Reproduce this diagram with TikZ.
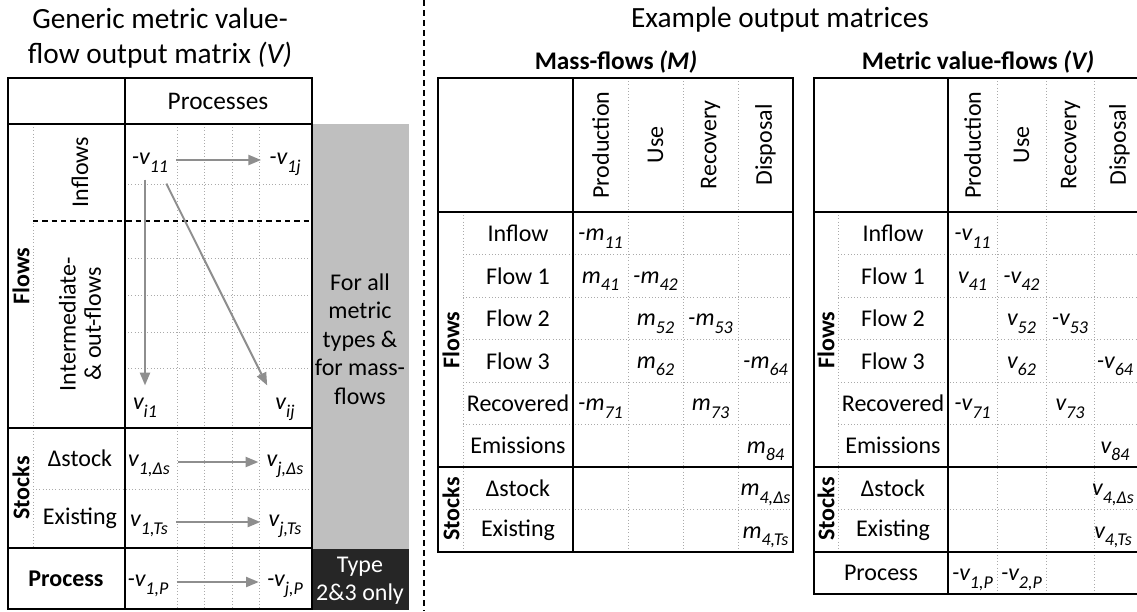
\documentclass[tikz,border=0pt]{standalone}
\usepackage{fontspec}
\setmainfont{Carlito}
\usetikzlibrary{arrows.meta}

\definecolor{boxgrey}{RGB}{191,191,191}
\definecolor{boxdark}{RGB}{38,38,38}
\definecolor{arrowgrey}{RGB}{142,142,142}
\definecolor{gridgrey}{RGB}{170,170,170}

\newcommand\cellsub[1]{\raisebox{-0.32em}{\fontsize{13.5}{13.5}\selectfont #1}}
\newcommand\mv[2]{\textit{#1\cellsub{#2}}}

\tikzset{
  bigline/.style={line width=1.5pt},
  dotgrid/.style={gridgrey, line width=0.6pt, dash pattern=on 0.8pt off 1.6pt},
  lab/.style={font=\fontsize{18}{19}\selectfont, inner sep=0pt},
  boldlab/.style={font=\fontsize{18}{19}\selectfont\bfseries, inner sep=0pt},
  cell/.style={font=\fontsize{18}{19}\selectfont, inner sep=6pt, text height=12pt, text depth=5pt},
  flowarrow/.style={arrowgrey, line width=1.5pt, -{Triangle[length=9.5pt, width=7.5pt]}}
}

\begin{document}
\begin{tikzpicture}[x=0.75pt, y=-0.75pt]
\useasboundingbox (0,0) rectangle (1137,611);

% Titles
\node[font=\fontsize{22}{26}\selectfont, align=center] (gtitle) at (160,38) {Generic metric value-\\flow output matrix \textit{(V)}};
\node[font=\fontsize{22}{26}\selectfont] (etitle) at (780,20) {Example output matrices};
\node[font=\fontsize{19}{22}\selectfont\bfseries] (mtitle) at (616,62) {Mass-flows \textit{(M)}};
\node[font=\fontsize{19}{22}\selectfont\bfseries] (vtitle) at (978,62) {Metric value-flows \textit{(V)}};

% Generic matrix: grey side boxes
\fill[boxgrey] (312,124) rectangle (409,549);
\fill[boxdark] (312,549) rectangle (409,610);
\node[lab, align=center, font=\fontsize{18}{21.4}\selectfont] (allnote) at (360,339) {For all\\metric\\types \&\\for mass-\\flows};
\node[lab, align=center, text=white, font=\fontsize{18}{21}\selectfont] (typenote) at (360,581) {Type\\2\&3 only};

% Generic matrix: grid
\foreach \x in {177,204,232,259} \draw[dotgrid] (\x,124) -- (\x,610);
\foreach \y in {184,258,295,332,368} \draw[dotgrid] (125,\y) -- (312,\y);
\draw[dotgrid] (33,124) -- (33,548);
\draw[dotgrid] (33,489) -- (312,489);
\draw[line width=1pt, dash pattern=on 4pt off 3pt] (33,221) -- (312,221);

% Generic matrix: borders
\draw[bigline] (8,78) rectangle (312,609);
\draw[bigline] (125,78) -- (125,609);
\foreach \y in {124,428,548} \draw[bigline] (8,\y) -- (312,\y);

% Generic matrix: labels
\node[lab, font=\fontsize{19}{20}\selectfont] (procs) at (218,101) {Processes};
\node[boldlab, rotate=90] (gflows) at (21,276) {Flows};
\node[boldlab, rotate=90] (gstocks) at (21,488) {Stocks};
\node[lab, rotate=90] (ginflows) at (80,172) {Inflows};
\node[lab, rotate=90, align=center] (ginter) at (80,324) {Intermediate-\\\& out-flows};
\node[lab] (gdstock) at (80,458) {Δstock};
\node[lab] (gexist) at (80,518) {Existing};
\node[boldlab] (gproc) at (66,579) {Process};

% Generic matrix: entries
\node[cell] (v11) at (150,160) {\mv{-v}{11}};
\node[cell] (v1j) at (285,160) {\mv{-v}{1j}};
\node[cell] (vi1) at (145,405) {\mv{v}{i1}};
\node[cell] (vij) at (285,405) {\mv{v}{ij}};
\node[cell] (v1ds) at (149,462) {\mv{v}{1,Δs}};
\node[cell] (vjds) at (285,462) {\mv{v}{j,Δs}};
\node[cell] (v1ts) at (149,522) {\mv{v}{1,Ts}};
\node[cell] (vjts) at (285,522) {\mv{v}{j,Ts}};
\node[cell] (v1p) at (148,582) {\mv{-v}{1,P}};
\node[cell] (vjp) at (285,582) {\mv{-v}{j,P}};

% Generic matrix: arrows
\draw[flowarrow] (v11) -- (v1j);
\draw[flowarrow] (vi1 |- v11.south) -- (vi1);
\draw[flowarrow] (v11.south east) ++(-10,4) -- (vij.north west);
\draw[flowarrow] (v1ds) -- (vjds);
\draw[flowarrow] (v1ts) -- (vjts);
\draw[flowarrow] (v1p) -- (vjp);

% Separator
\draw[line width=1pt, dash pattern=on 4.5pt off 3pt] (424,0) -- (424,611);

% Mass-flow matrix: grid
\foreach \x in {628,683,738} \draw[dotgrid] (\x,78) -- (\x,552);
\foreach \y in {254.5,297,339.5,382,424.5,509.5} \draw[dotgrid] (463,\y) -- (793,\y);
\draw[dotgrid] (463,212) -- (463,552);

% Mass-flow matrix: borders
\draw[bigline] (438,78) rectangle (793,552);
\draw[bigline] (573,78) -- (573,552);
\foreach \y in {212,467} \draw[bigline] (438,\y) -- (793,\y);

% Mass-flow matrix: labels
\foreach \lab [count=\i] in {Production,Use,Recovery,Disposal}
  \node[lab, rotate=90] (mh\i) at ({573+55*(\i-0.5)},145) {\lab};
\foreach \lab [count=\i] in {Inflow,Flow 1,Flow 2,Flow 3,Recovered,Emissions,Δstock,Existing}
  \node[lab] (mr\i) at (518,{212+42.5*(\i-0.5)}) {\lab};
\node[boldlab, rotate=90] (mflows) at (451,340) {Flows};
\node[boldlab, rotate=90] (mstocks) at (451,509) {Stocks};

% Mass-flow matrix: entries
\node[cell] (m11) at (600.5,236) {\mv{-m}{11}};
\node[cell] (m41) at (600.5,278.5) {\mv{m}{41}};
\node[cell] (m42) at (655.5,278.5) {\mv{-m}{42}};
\node[cell] (m52) at (655.5,321) {\mv{m}{52}};
\node[cell] (m53) at (710.5,321) {\mv{-m}{53}};
\node[cell] (m62) at (655.5,363.5) {\mv{m}{62}};
\node[cell] (m64) at (765.5,363.5) {\mv{-m}{64}};
\node[cell] (m71) at (600.5,406) {\mv{-m}{71}};
\node[cell] (m73) at (710.5,406) {\mv{m}{73}};
\node[cell] (m84) at (765.5,448.5) {\mv{m}{84}};
\node[cell] (m4ds) at (765.5,491) {\mv{m}{4,Δs}};
\node[cell] (m4ts) at (765.5,533.5) {\mv{m}{4,Ts}};

% Value-flow matrix: grid
\foreach \x in {997,1046,1094} \draw[dotgrid] (\x,78) -- (\x,594);
\foreach \y in {254.5,297,339.5,382,424.5,509.5} \draw[dotgrid] (838,\y) -- (1143,\y);
\draw[dotgrid] (838,212) -- (838,552);

% Value-flow matrix: borders
\draw[bigline] (814,78) rectangle (1143,594);
\draw[bigline] (948,78) -- (948,594);
\foreach \y in {212,467,552} \draw[bigline] (814,\y) -- (1143,\y);

% Value-flow matrix: labels
\foreach \lab [count=\i] in {Production,Use,Recovery,Disposal}
  \node[lab, rotate=90] (vh\i) at ({948+49*(\i-0.5)},145) {\lab};
\foreach \lab [count=\i] in {Inflow,Flow 1,Flow 2,Flow 3,Recovered,Emissions,Δstock,Existing}
  \node[lab] (vr\i) at (893,{212+42.5*(\i-0.5)}) {\lab};
\node[lab] (vproc) at (881,573) {Process};
\node[boldlab, rotate=90] (vflows) at (826,340) {Flows};
\node[boldlab, rotate=90] (vstocks) at (826,509) {Stocks};

% Value-flow matrix: entries
\node[cell] (w11) at (972.5,236) {\mv{-v}{11}};
\node[cell] (w41) at (972.5,278.5) {\mv{v}{41}};
\node[cell] (w42) at (1021.5,278.5) {\mv{-v}{42}};
\node[cell] (w52) at (1021.5,321) {\mv{v}{52}};
\node[cell] (w53) at (1070,321) {\mv{-v}{53}};
\node[cell] (w62) at (1021.5,363.5) {\mv{v}{62}};
\node[cell] (w64) at (1115,363.5) {\mv{-v}{64}};
\node[cell] (w71) at (972.5,406) {\mv{-v}{71}};
\node[cell] (w73) at (1070,406) {\mv{v}{73}};
\node[cell] (w84) at (1115,448.5) {\mv{v}{84}};
\node[cell] (w4ds) at (1113,491) {\mv{v}{4,Δs}};
\node[cell] (w4ts) at (1113,533.5) {\mv{v}{4,Ts}};
\node[cell] (w1p) at (972.5,576) {\mv{-v}{1,P}};
\node[cell] (w2p) at (1021.5,576) {\mv{-v}{2,P}};
\end{tikzpicture}
\end{document}
